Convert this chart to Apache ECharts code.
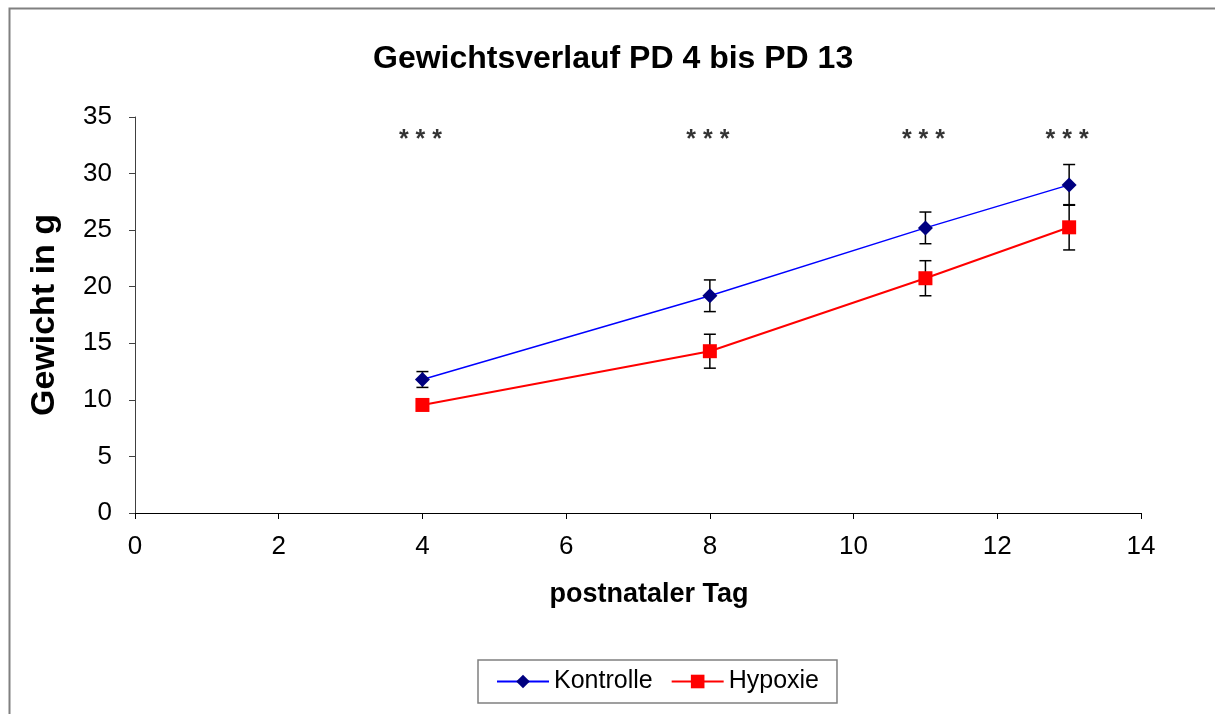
<!DOCTYPE html>
<html>
<head>
<meta charset="utf-8">
<script src="https://cdn.jsdelivr.net/npm/echarts@6/dist/echarts.min.js"></script>
<style>html,body{margin:0;padding:0;background:#fff;}#c{width:1215px;height:714px;}</style>
</head>
<body>
<div id="c"></div>
<script>
var days = [4, 8, 11, 13];
var kontrolle = [11.8, 19.2, 25.2, 29.0];
var kontrolleErr = [0.7, 1.4, 1.4, 1.8];
var hypoxie = [9.55, 14.3, 20.75, 25.25];
var hypoxieErr = [0.3, 1.5, 1.55, 2.0];
var starLevel = 33.0;
var starText = '* * *';
var xTicks = [0, 2, 4, 6, 8, 10, 12, 14];
var yTicks = [0, 5, 10, 15, 20, 25, 30, 35];

var FONT = '"Liberation Sans", Arial, sans-serif';

function pairs(xs, ys) { return xs.map(function (x, i) { return [x, ys[i]]; }); }
function errData(xs, ys, es) { return xs.map(function (x, i) { return [x, ys[i], es[i]]; }); }

function errRender(params, api) {
  var x = api.value(0), y = api.value(1), e = api.value(2);
  var top = api.coord([x, y + e]);
  var bot = api.coord([x, y - e]);
  var hw = 6;
  var st = { stroke: '#000', lineWidth: 1.5 };
  return {
    type: 'group',
    children: [
      { type: 'line', shape: { x1: top[0], y1: top[1], x2: bot[0], y2: bot[1] }, style: st },
      { type: 'line', shape: { x1: top[0] - hw, y1: top[1], x2: top[0] + hw, y2: top[1] }, style: st },
      { type: 'line', shape: { x1: bot[0] - hw, y1: bot[1], x2: bot[0] + hw, y2: bot[1] }, style: st }
    ]
  };
}

var chart = echarts.init(document.getElementById('c'));
chart.setOption({
  backgroundColor: '#fff',
  animation: false,
  graphic: [{
    type: 'rect', left: 7, top: 6,
    shape: { x: 0, y: 0, width: 1230, height: 730 },
    style: { fill: 'none', stroke: '#808080', lineWidth: 2 }, z: -1
  }],
  title: {
    text: 'Gewichtsverlauf PD 4 bis PD 13',
    left: 368, top: 38,
    textStyle: { fontFamily: FONT, fontSize: 32, fontWeight: 'bold', color: '#000' }
  },
  grid: { left: 135, right: 74, top: 117, bottom: 201, containLabel: false },
  xAxis: {
    type: 'value', min: 0, max: 14, interval: 2,
    name: 'postnataler Tag', nameLocation: 'middle', nameGap: 68,
    nameTextStyle: { fontFamily: FONT, fontSize: 27, fontWeight: 'bold', color: '#000',
      padding: [0, 0, 0, 22] },
    axisLine: { lineStyle: { color: '#000', width: 1 } },
    axisTick: { show: true, length: 6, lineStyle: { color: '#000' } },
    axisLabel: { fontFamily: FONT, fontSize: 26, color: '#000', margin: 21,
      formatter: function (v) { return xTicks.indexOf(v) >= 0 ? String(v) : ''; } },
    splitLine: { show: false }
  },
  yAxis: {
    type: 'value', min: 0, max: 35, interval: 5,
    name: 'Gewicht in g', nameLocation: 'middle', nameGap: 73,
    nameTextStyle: { fontFamily: FONT, fontSize: 34, fontWeight: 'bold', color: '#000' },
    axisLine: { show: true, lineStyle: { color: '#404040', width: 1 } },
    axisTick: { show: true, length: 6, lineStyle: { color: '#404040' } },
    axisLabel: { fontFamily: FONT, fontSize: 26, color: '#000', margin: 23,
      formatter: function (v) { return yTicks.indexOf(v) >= 0 ? String(v) : ''; } },
    splitLine: { show: false }
  },
  legend: {
    left: 478, top: 660,
    orient: 'horizontal',
    data: ['Kontrolle', 'Hypoxie'],
    backgroundColor: '#fff',
    borderColor: '#808080', borderWidth: 1.5,
    padding: [9, 18, 9, 18],
    itemGap: 18, itemWidth: 52, itemHeight: 17,
    textStyle: { fontFamily: FONT, fontSize: 25, color: '#000' }
  },
  series: [
    {
      name: 'KontrolleErr', type: 'custom', renderItem: errRender,
      data: errData(days, kontrolle, kontrolleErr), z: 1, silent: true
    },
    {
      name: 'HypoxieErr', type: 'custom', renderItem: errRender,
      data: errData(days, hypoxie, hypoxieErr), z: 1, silent: true
    },
    {
      name: 'Kontrolle', type: 'line', data: pairs(days, kontrolle),
      symbol: 'diamond', symbolSize: 15,
      lineStyle: { color: '#0000ff', width: 1.5 },
      itemStyle: { color: '#000080', borderWidth: 0 },
      z: 3
    },
    {
      name: 'Hypoxie', type: 'line', data: pairs(days, hypoxie),
      symbol: 'rect', symbolSize: 14,
      lineStyle: { color: '#ff0000', width: 2 },
      itemStyle: { color: '#ff0000', borderWidth: 0 },
      z: 3
    },
    {
      name: 'stars', type: 'scatter', symbolSize: 0,
      data: days.map(function (d) { return [d, starLevel]; }),
      label: { show: true, position: 'inside', formatter: starText, offset: [-2, 0],
        fontFamily: FONT, fontSize: 25, fontWeight: 'bold', color: '#000' },
      silent: true, z: 4
    }
  ]
});
</script>
</body>
</html>
